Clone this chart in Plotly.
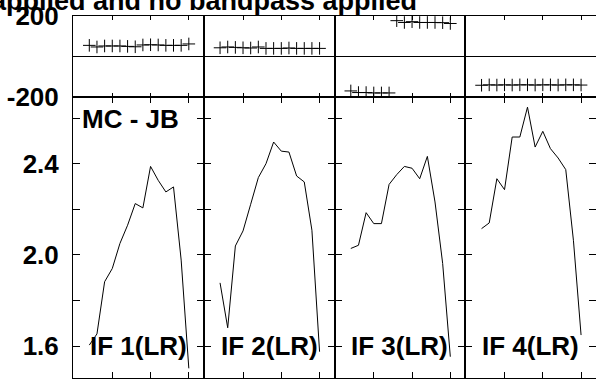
import plotly.graph_objects as go
from plotly.subplots import make_subplots

# ---------------- data ----------------
channels = list(range(2, 16))
if_labels = ["IF 1(LR)", "IF 2(LR)", "IF 3(LR)", "IF 4(LR)"]
baseline_label = "MC - JB"
title_text = "applied and no bandpass applied"

amp_if1 = [1.604, 1.653, 1.882, 1.940, 2.050, 2.130, 2.225, 2.206, 2.388, 2.327, 2.276, 2.298, 1.977, 1.502]
amp_if2 = [1.877, 1.680, 2.039, 2.105, 2.222, 2.339, 2.400, 2.495, 2.455, 2.451, 2.346, 2.320, 2.108, 1.575]
amp_if3 = [2.028, 2.042, 2.185, 2.137, 2.137, 2.309, 2.352, 2.388, 2.380, 2.334, 2.432, 2.232, 1.962, 1.553]
amp_if4 = [2.115, 2.140, 2.334, 2.286, 2.517, 2.517, 2.648, 2.473, 2.542, 2.466, 2.425, 2.374, 2.064, 1.648]

phase_if1 = [55, 47, 52, 52, 52, 50, 48, 57, 58, 57, 55, 55, 55, 62]
phase_if2 = [43, 47, 45, 43, 42, 47, 40, 40, 40, 42, 40, 40, 40, 40]
phase_if3 = [-170, -178, -178, -180, -180, -180, 177, 168, 172, 168, 168, 168, 167, 163]
phase_if4 = [-142, -140, -141, -140, -141, -140, -140, -141, -140, -140, -141, -140, -140, -141]

amps = [amp_if1, amp_if2, amp_if3, amp_if4]
phases = [phase_if1, phase_if2, phase_if3, phase_if4]

phase_ticks = [-200, 200]
amp_tickvals = [1.6, 1.8, 2.0, 2.2, 2.4, 2.6]
amp_ticktext = ["1.6", "", "2.0", "", "2.4", ""]
x_tickvals = [5, 10, 15]

# ---------------- figure ----------------
W, H = 596, 381
mt, mb, ml, mr = 16, 3, 73, 0
ph = H - mt - mb
top_frac = (97 - 16) / ph

fig = make_subplots(rows=2, cols=4, row_heights=[top_frac, 1 - top_frac],
                    horizontal_spacing=0, vertical_spacing=0)

FONT = "Arial, Liberation Sans, sans-serif"
lbl_font = dict(family=FONT, size=26, color="black", weight="bold")

for i in range(4):
    c = i + 1
    fig.add_trace(go.Scatter(x=channels, y=phases[i], mode="markers",
                             marker=dict(symbol="cross-thin", size=9,
                                         line=dict(color="black", width=1)),
                             showlegend=False), row=1, col=c)
    fig.add_trace(go.Scatter(x=channels, y=amps[i], mode="lines",
                             line=dict(color="black", width=1),
                             showlegend=False), row=2, col=c)

    common_x = dict(range=[-0.13, 16.95], tickvals=x_tickvals, showticklabels=False,
                    ticks="inside", showline=True, linecolor="black", linewidth=1,
                    mirror="ticks", showgrid=False, zeroline=False, tickcolor="black",
                    automargin=False)
    fig.update_xaxes(ticklen=4, row=1, col=c, **common_x)
    fig.update_xaxes(ticklen=6, row=2, col=c, **common_x)

    fig.update_yaxes(range=[-200, 200], tickvals=phase_ticks,
                     ticktext=[str(v) for v in phase_ticks],
                     showticklabels=(c == 1), ticks="", showline=True,
                     linecolor="black", linewidth=1, mirror=True, showgrid=False,
                     zeroline=True, zerolinecolor="black", zerolinewidth=1,
                     tickfont=lbl_font, ticklabelstandoff=8,
                     automargin=False, row=1, col=c)
    fig.update_yaxes(range=[1.4596, 2.6926], tickvals=amp_tickvals, ticktext=amp_ticktext,
                     showticklabels=(c == 1), ticks="inside", ticklen=7, tickcolor="black",
                     showline=True, linecolor="black", linewidth=1, mirror="ticks",
                     showgrid=False, zeroline=False, tickfont=lbl_font,
                     ticklabelstandoff=8, automargin=False, row=2, col=c)

    fig.add_annotation(text=if_labels[i], xref=f"x{4 + c} domain", yref=f"y{4 + c}",
                       x=0.5, y=1.6, xanchor="center", yanchor="middle",
                       showarrow=False, font=lbl_font)

fig.add_annotation(text=baseline_label, xref="x5 domain", yref="y5 domain",
                   x=0.05, y=(378 - 119) / 281, xanchor="left", yanchor="middle",
                   showarrow=False, font=lbl_font)

fig.add_annotation(text=title_text, xref="paper", yref="paper",
                   x=(419 - ml) / (W - ml - mr), y=1 + 15 / ph,
                   xanchor="right", yanchor="middle", showarrow=False,
                   font=dict(family=FONT, size=27, color="black", weight="bold"))

fig.update_layout(width=W, height=H, margin=dict(t=mt, b=mb, l=ml, r=mr, autoexpand=False),
                  paper_bgcolor="white", plot_bgcolor="white")

fig.write_html("out.html", config={"displayModeBar": False},
               post_script="document.body.style.margin='0';document.body.style.overflow='hidden';")
